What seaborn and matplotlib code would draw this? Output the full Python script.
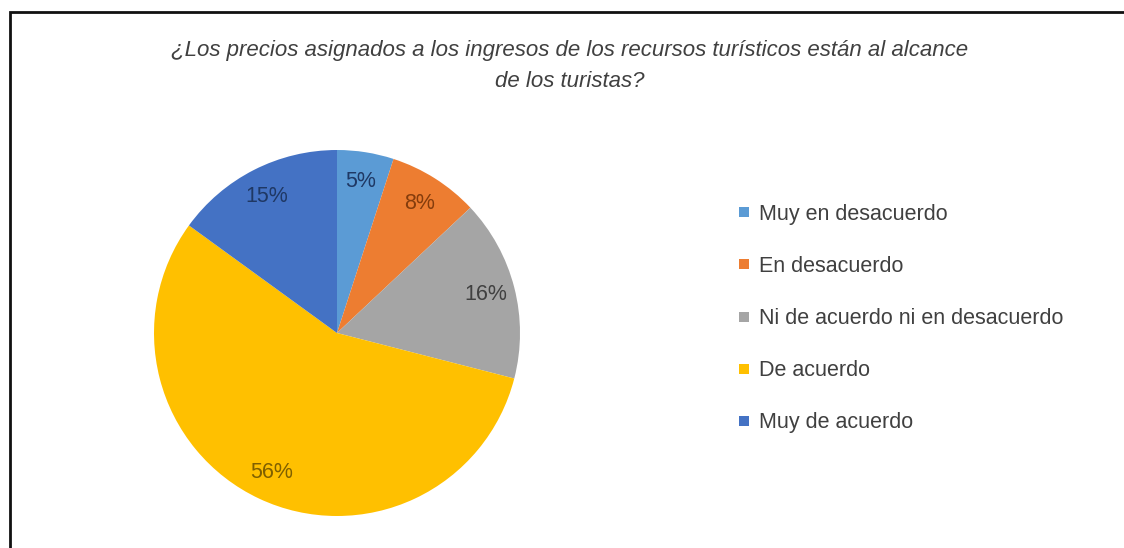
import matplotlib
matplotlib.use("Agg")
import matplotlib.pyplot as plt
import seaborn as sns
from matplotlib.patches import Rectangle
from matplotlib.lines import Line2D

categories = ["Muy en desacuerdo", "En desacuerdo", "Ni de acuerdo ni en desacuerdo",
              "De acuerdo", "Muy de acuerdo"]
values = [5, 8, 16, 56, 15]
colors = ["#5B9BD5", "#ED7D31", "#A5A5A5", "#FFC000", "#4472C4"]
label_colors = ["#1F3864", "#843C0C", "#404040", "#7F6000", "#1F3864"]
title = "¿Los precios asignados a los ingresos de los recursos turísticos están al alcance\nde los turistas?"

sns.set_theme(style="white")
plt.rcParams['font.family'] = ['Liberation Sans', 'DejaVu Sans']

W, H = 1124, 548
fig = plt.figure(figsize=(W / 100, H / 100), dpi=100)
fig.patch.set_facecolor("white")

# chart border
fig.patches.append(Rectangle((10 / W, -0.05), 1.1, (H - 12) / H + 0.05,
                             transform=fig.transFigure, fill=False,
                             edgecolor="#111111", linewidth=2, zorder=0))

cx, cy, r = 337, H - 333, 183
ax = fig.add_axes([(cx - r) / W, (cy - r) / H, 2 * r / W, 2 * r / H])
wedges, texts, autotexts = ax.pie(
    values, colors=colors, startangle=90, counterclock=False,
    autopct=lambda p: f"{p:.0f}%", pctdistance=0.84,
    wedgeprops=dict(linewidth=0),
    textprops=dict(fontsize=15.5, color="#404040"))
for t, c in zip(autotexts, label_colors):
    t.set_color(c)
ax.set_xlim(-1, 1)
ax.set_ylim(-1, 1)
ax.set_aspect("equal")
ax.axis("off")

fig.text(570 / W, (H - 66) / H, title, ha="center", va="center", fontsize=16,
         style="italic", color="#404040", linespacing=1.6)

handles = [Line2D([], [], linestyle="none", marker="s", markersize=6.5,
                  markerfacecolor=c, markeredgewidth=0) for c in colors]
leg = fig.legend(handles, categories, loc="upper left",
                 bbox_to_anchor=(729 / W, (H - 195) / H), frameon=False,
                 fontsize=15.5, handlelength=0.6, handletextpad=0.4,
                 labelspacing=1.45, borderaxespad=0)
for t in leg.get_texts():
    t.set_color("#404040")

fig.savefig("out.png", dpi=100)
